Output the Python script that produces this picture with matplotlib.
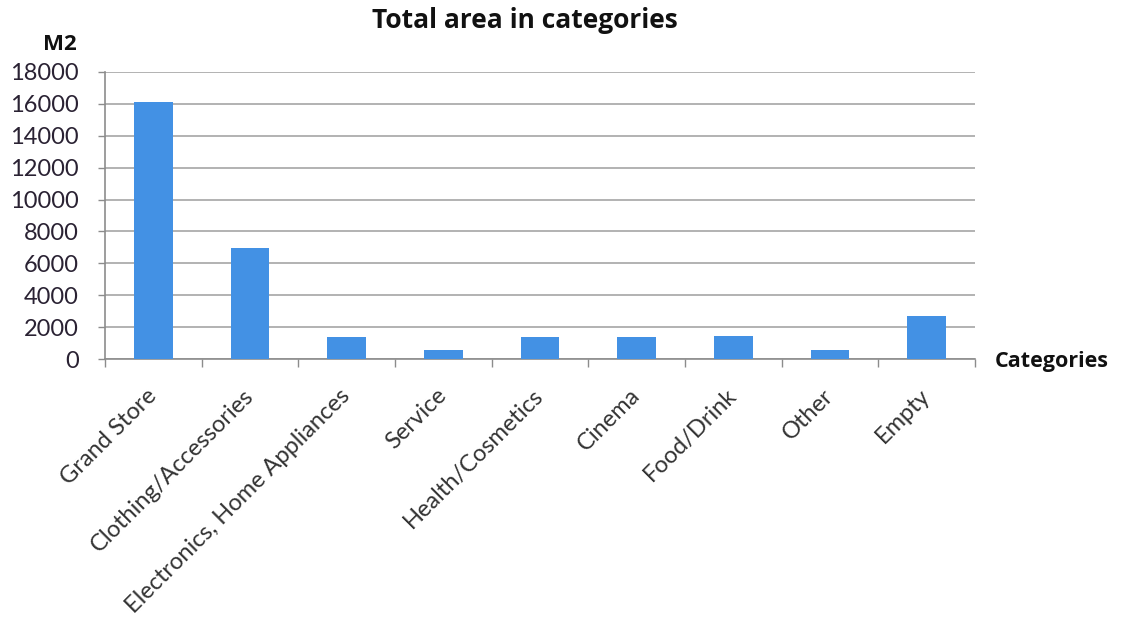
import matplotlib
matplotlib.use("Agg")
import matplotlib.pyplot as plt
import numpy as np

categories = ["Grand Store", "Clothing/Accessories", "Electronics, Home Appliances",
              "Service", "Health/Cosmetics", "Cinema", "Food/Drink", "Other", "Empty"]
area_m2 = [16100, 6950, 1400, 550, 1400, 1400, 1450, 550, 2700]
y_ticks = [0, 2000, 4000, 6000, 8000, 10000, 12000, 14000, 16000, 18000]

BAR_COLOR = "#4391e4"
GRID_COLOR = "#a6a6a6"
TEXT_COLOR = "#2a2233"
BOLD_FONT = ["Open Sans", "DejaVu Sans"]

plt.rcParams["font.family"] = ["Lato", "DejaVu Sans"]

fig = plt.figure(figsize=(11.27, 6.23), dpi=100)
ax = fig.add_axes([105 / 1127, 1 - 359 / 623, 870 / 1127, 287 / 623])

x = np.arange(len(categories))
ax.bar(x, area_m2, width=0.4, color=BAR_COLOR, zorder=3)

ax.set_xlim(-0.5, len(categories) - 0.5)
ax.set_ylim(0, 18000)
ax.set_yticks(y_ticks)
ax.set_yticklabels([str(v) for v in y_ticks], fontsize=17, color=TEXT_COLOR)
ax.yaxis.grid(True, color=GRID_COLOR, linewidth=1.2, zorder=0)

# category labels at bar centres, tick marks between categories
ax.set_xticks(x)
ax.set_xticklabels(categories, rotation=45, ha="right", va="center",
                   rotation_mode="anchor", fontsize=17, color="#333333")
ax.tick_params(axis="x", length=0, pad=24)
ax.set_xticks(np.arange(-0.5, len(categories)), minor=True)
ax.tick_params(axis="x", which="minor", length=6, color="#8c8c8c", width=1)
ax.tick_params(axis="y", length=5, color="#8c8c8c", width=1, pad=14)

for side in ["top", "right"]:
    ax.spines[side].set_visible(False)
for side in ["left", "bottom"]:
    ax.spines[side].set_color("#8c8c8c")
    ax.spines[side].set_linewidth(1.2)

fig.text(525 / 1127, 1 - 28 / 623, "Total area in categories", ha="center", va="baseline",
         fontsize=19, fontweight="bold", color="#111111", family=BOLD_FONT)
fig.text(60 / 1127, 1 - 50 / 623, "M2", ha="center", va="baseline",
         fontsize=16, fontweight="bold", color="#111111", family=BOLD_FONT)
fig.text(995 / 1127, 1 - 367 / 623, "Categories", ha="left", va="baseline",
         fontsize=15.5, fontweight="bold", color="#111111", family=BOLD_FONT)

fig.savefig("out.png", dpi=100)
